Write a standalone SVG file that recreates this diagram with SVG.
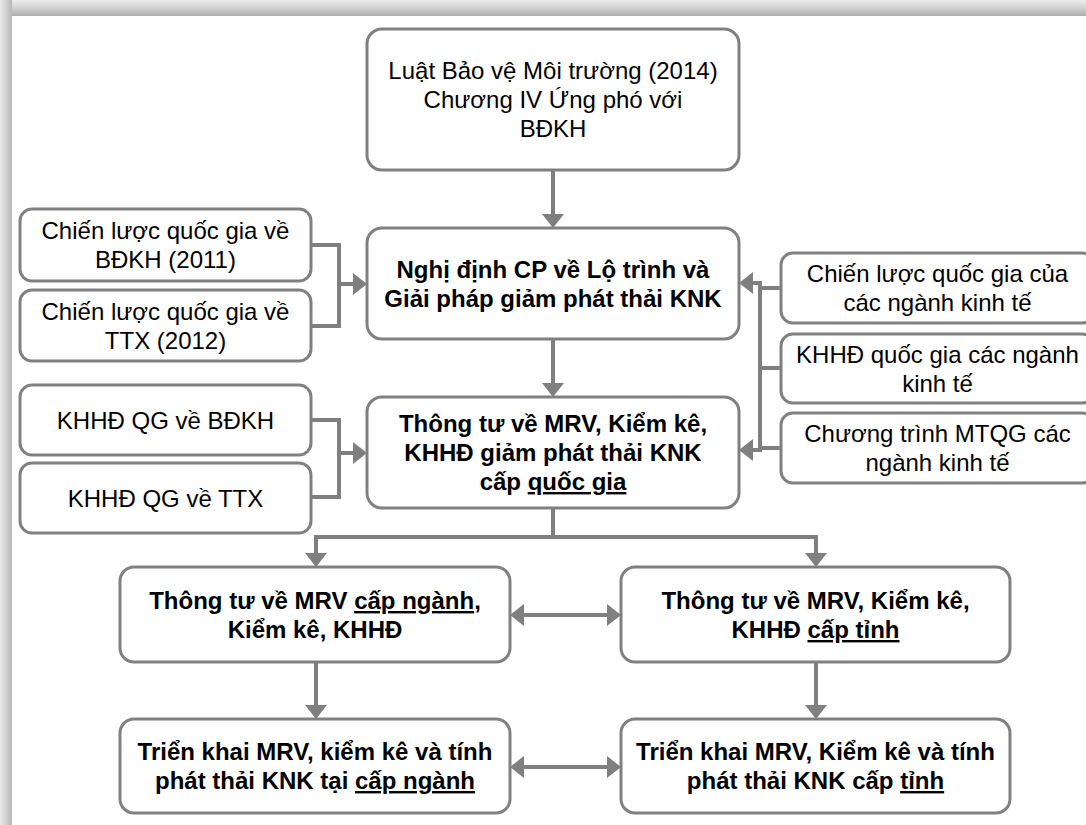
<svg xmlns="http://www.w3.org/2000/svg" width="1086" height="825" viewBox="0 0 1086 825">
<defs>
<linearGradient id="gTop" x1="0" y1="0" x2="0" y2="1">
<stop offset="0" stop-color="#ececec"/>
<stop offset="0.35" stop-color="#dadada"/>
<stop offset="0.7" stop-color="#c4c4c4"/>
<stop offset="1" stop-color="#acacac"/>
</linearGradient>
<linearGradient id="gLeft" x1="0" y1="0" x2="1" y2="0">
<stop offset="0" stop-color="#e8e8e8"/>
<stop offset="0.4" stop-color="#d6d6d6"/>
<stop offset="1" stop-color="#b8b8b8"/>
</linearGradient>
<marker id="ah" viewBox="0 0 14 22" refX="10" refY="11" markerWidth="14" markerHeight="22" markerUnits="userSpaceOnUse" orient="auto-start-reverse">
<path d="M0,0 L14,11 L0,22 Z" fill="#7f7f7f"/>
</marker>
<style>
.box{fill:#ffffff;stroke:#808080;stroke-width:3}
.t{font-family:"Liberation Sans",Arial,sans-serif;font-size:24px;fill:#000;text-anchor:middle}
.b{font-weight:bold}
.ln{fill:none;stroke:#7f7f7f;stroke-width:4}
.ar{fill:none;stroke:#7f7f7f;stroke-width:4;marker-end:url(#ah)}
.da{fill:none;stroke:#7f7f7f;stroke-width:4;marker-start:url(#ah);marker-end:url(#ah)}
</style>
</defs>
<rect x="0" y="0" width="1086" height="825" fill="#ffffff"/>
<rect x="0" y="0" width="1086" height="16" fill="url(#gTop)"/>
<rect x="0" y="0" width="12" height="825" fill="url(#gLeft)"/>

<g id="connectors">
<path class="ar" d="M553,170 V224"/>
<path class="ar" d="M553,339 V393"/>
<path class="ln" d="M311,245 H339 V326 H311"/>
<path class="ar" d="M339,284 H363"/>
<path class="ln" d="M311,420 H339 V497 H311"/>
<path class="ar" d="M339,453 H363"/>
<path class="ln" d="M781,288 H760"/>
<path class="ln" d="M781,368 H760"/>
<path class="ln" d="M781,448 H760"/>
<path class="ln" d="M760,281 V452"/>
<path class="ar" d="M760,283 H743"/>
<path class="ar" d="M760,450 H743"/>
<path class="ln" d="M553,508 V537"/>
<path class="da" d="M316,563 V537 H816 V563"/>
<path class="ar" d="M316,662 V715"/>
<path class="ar" d="M816,662 V715"/>
<path class="da" d="M514,615 H617"/>
<path class="da" d="M514,767 H617"/>
</g>

<g id="n-luat">
<rect class="box" x="367" y="29" width="372" height="141" rx="15"/>
<text class="t" x="553" y="79">Luật Bảo vệ Môi trường (2014)</text>
<text class="t" x="553" y="108">Chương IV Ứng phó với</text>
<text class="t" x="553" y="137">BĐKH</text>
</g>

<g id="n-nghidinh">
<rect class="box" x="367" y="228" width="372" height="111" rx="15"/>
<text class="t b" x="553" y="277.5">Nghị định CP về Lộ trình và</text>
<text class="t b" x="553" y="306.5">Giải pháp giảm phát thải KNK</text>
</g>

<g id="n-thongtu-qg">
<rect class="box" x="367" y="397" width="372" height="111" rx="15"/>
<text class="t b" x="553" y="432">Thông tư về MRV, Kiểm kê,</text>
<text class="t b" x="553" y="461">KHHĐ giảm phát thải KNK</text>
<text class="t b" x="553" y="490">cấp <tspan text-decoration="underline">quốc gia</tspan></text>
</g>

<g id="n-cl-bdkh">
<rect class="box" x="20" y="209" width="291" height="72" rx="12"/>
<text class="t" x="165.5" y="239">Chiến lược quốc gia về</text>
<text class="t" x="165.5" y="268">BĐKH (2011)</text>
</g>

<g id="n-cl-ttx">
<rect class="box" x="20" y="290" width="291" height="71" rx="12"/>
<text class="t" x="165.5" y="320">Chiến lược quốc gia về</text>
<text class="t" x="165.5" y="349">TTX (2012)</text>
</g>

<g id="n-khhd-bdkh">
<rect class="box" x="20" y="385" width="291" height="70" rx="12"/>
<text class="t" x="165.5" y="428.5">KHHĐ QG về BĐKH</text>
</g>

<g id="n-khhd-ttx">
<rect class="box" x="20" y="463" width="291" height="70" rx="12"/>
<text class="t" x="165.5" y="506.5">KHHĐ QG về TTX</text>
</g>

<g id="n-cl-nganh">
<rect class="box" x="781" y="253" width="313" height="70" rx="12"/>
<text class="t" x="937.5" y="282">Chiến lược quốc gia của</text>
<text class="t" x="937.5" y="311">các ngành kinh tế</text>
</g>

<g id="n-khhd-nganh">
<rect class="box" x="781" y="334" width="313" height="69" rx="12"/>
<text class="t" x="937.5" y="362.5">KHHĐ quốc gia các ngành</text>
<text class="t" x="937.5" y="391.5">kinh tế</text>
</g>

<g id="n-mtqg">
<rect class="box" x="781" y="413" width="313" height="70" rx="12"/>
<text class="t" x="937.5" y="442">Chương trình MTQG các</text>
<text class="t" x="937.5" y="471">ngành kinh tế</text>
</g>

<g id="n-thongtu-nganh">
<rect class="box" x="120" y="567" width="390" height="95" rx="14"/>
<text class="t b" x="315" y="609">Thông tư về MRV <tspan text-decoration="underline">cấp ngành</tspan>,</text>
<text class="t b" x="315" y="638">Kiểm kê, KHHĐ</text>
</g>

<g id="n-thongtu-tinh">
<rect class="box" x="621" y="567" width="389" height="95" rx="14"/>
<text class="t b" x="815.5" y="609">Thông tư về MRV, Kiểm kê,</text>
<text class="t b" x="815.5" y="638">KHHĐ <tspan text-decoration="underline">cấp tỉnh</tspan></text>
</g>

<g id="n-trienkhai-nganh">
<rect class="box" x="120" y="719" width="390" height="94" rx="14"/>
<text class="t b" x="315" y="760">Triển khai MRV, kiểm kê và tính</text>
<text class="t b" x="315" y="789">phát thải KNK tại <tspan text-decoration="underline">cấp ngành</tspan></text>
</g>

<g id="n-trienkhai-tinh">
<rect class="box" x="621" y="719" width="389" height="94" rx="14"/>
<text class="t b" x="815.5" y="760">Triển khai MRV, Kiểm kê và tính</text>
<text class="t b" x="815.5" y="789">phát thải KNK cấp <tspan text-decoration="underline">tỉnh</tspan></text>
</g>
</svg>
